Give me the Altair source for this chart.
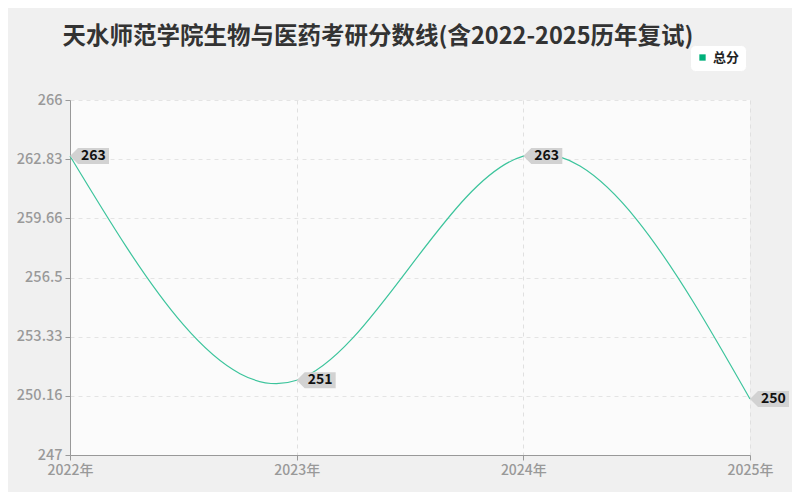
import altair as alt
import pandas as pd

years = [2022, 2023, 2024, 2025]
year_labels = ["2022年", "2023年", "2024年", "2025年"]
scores = [263, 251, 263, 250]
series = "总分"
y_ticks = [247, 250.16, 253.33, 256.5, 259.66, 262.83, 266]
title_text = "天水师范学院生物与医药考研分数线(含2022-2025历年复试)"

df = pd.DataFrame({"year": year_labels, "score": scores, "series": [series] * len(scores)})

FONT = "Noto Sans CJK SC"

x = alt.X("year:O", scale=alt.Scale(type="point", padding=0, domain=year_labels),
          axis=alt.Axis(title=None, labelAngle=0, grid=True, gridDash=[4, 4], gridColor="#e0e0e0",
                        domainColor="#999", tickColor="#999", tickSize=5,
                        labelColor="#999", labelFontSize=14, labelFont=FONT, labelFontWeight=500,
                        labelPadding=3))
y = alt.Y("score:Q", scale=alt.Scale(domain=[247, 266], nice=False, zero=False),
          axis=alt.Axis(title=None, values=y_ticks, format=".2~f", grid=True, gridDash=[4, 4],
                        gridColor="#e4e4e4", domainColor="#999", tickColor="#999", tickSize=5,
                        labelColor="#999", labelFontSize=14.5, labelFont=FONT, labelFontWeight=500,
                        labelPadding=3))

line = alt.Chart(df).mark_line(interpolate="natural", strokeWidth=1.2).encode(
    x=x, y=y,
    color=alt.Color("series:N", scale=alt.Scale(domain=[series], range=["#3cc49c"]),
                    legend=alt.Legend(title=None, orient="none", legendX=620, legendY=-55,
                                      symbolType="square", symbolSize=40, symbolFillColor="#00b07a",
                                      symbolStrokeWidth=0,
                                      labelFont=FONT, labelFontSize=13, labelFontWeight="bold",
                                      labelColor="#222", fillColor="white", cornerRadius=5,
                                      padding=6, strokeColor="#f0f0f0"))
)

tag_path = "M0,0 L0.4,-0.4 L1.95,-0.4 L1.95,0.4 L0.4,0.4 Z"
tags = alt.Chart(df).mark_point(shape=tag_path, filled=True, size=1600, color="#d2d2d2",
                                opacity=1).encode(x=x, y=y)
texts = alt.Chart(df).mark_text(align="left", baseline="middle", dx=11, dy=0, font=FONT,
                                fontSize=14, fontWeight="bold", color="#111").encode(
    x=x, y=y, text=alt.Text("score:Q", format="d"))

chart = alt.layer(line, tags, texts).properties(
    width=680, height=355,
    title=alt.TitleParams(title_text, anchor="middle", dx=-32, offset=-4, fontSize=23.5,
                          font=FONT, fontWeight="bold", color="#333"),
    autosize=alt.AutoSizeParams(type="none"),
    padding={"left": 62, "top": 92, "right": 42, "bottom": 37},
).configure(background="#f0f0f0").configure_view(fill="#fbfbfb", stroke=None)

chart.save("out.html", embed_options={"renderer": "svg", "actions": False})
